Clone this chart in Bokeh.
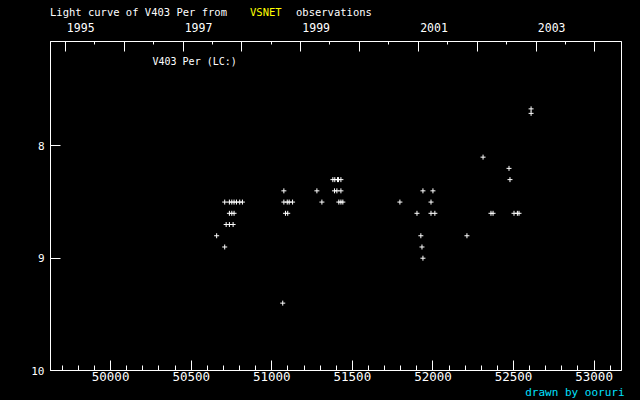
import pandas as pd
from bokeh.plotting import figure
from bokeh.layouts import column
from bokeh.models import (Range1d, LinearAxis, FixedTicker, SingleIntervalTicker,
                          Label, Title, Div)
from bokeh.embed import file_html
from bokeh.resources import INLINE

# Observations (JD - 2400000, visual magnitude)
jd = [50658, 50708,
      50708, 50737, 50752, 50766, 50781, 50801, 50818,
      50737, 50752, 50766,
      50717, 50737, 50760,
      51068, 51075,
      51075, 51096, 51108, 51129,
      51085, 51099,
      51280, 51311,
      51379, 51391, 51408, 51414, 51429,
      51389, 51404, 51429,
      51416, 51429, 51441,
      51795, 51901, 51925, 51932, 51938, 51938,
      51988, 51988, 52000, 52012,
      52211, 52311, 52360, 52373,
      52472, 52478, 52503, 52524, 52534,
      52609, 52609]
mag = [8.8, 8.9,
       8.5, 8.5, 8.5, 8.5, 8.5, 8.5, 8.5,
       8.6, 8.6, 8.6,
       8.7, 8.7, 8.7,
       9.4, 8.4,
       8.5, 8.5, 8.5, 8.5,
       8.6, 8.6,
       8.4, 8.5,
       8.3, 8.3, 8.3, 8.3, 8.3,
       8.4, 8.4, 8.4,
       8.5, 8.5, 8.5,
       8.5, 8.6, 8.8, 8.9, 9.0, 8.4,
       8.5, 8.6, 8.4, 8.6,
       8.8, 8.1, 8.6, 8.6,
       8.2, 8.3, 8.6, 8.6, 8.6,
       7.67, 7.71]

y_ticks = [8, 9, 10]
years = list(range(1995, 2005))
year_labels = ["1995", "1997", "1999", "2001", "2003"]

def to_jd(s):
    return pd.Timestamp(s).to_julian_date() - 2400000

year_jd = [to_jd(f"{y}-01-01") for y in years]
half_jd = [to_jd(f"{y}-07-01") for y in years[:-1]]
label_jd = [to_jd(f"{y}-01-01") for y in year_labels]

FONT = "DejaVu Sans Mono"
LABEL_SHIFT = 96  # year labels start at their tick (left-aligned look)

# ---- title line (HTML, three colours) ----
span = "position:absolute;top:6px;line-height:12px;white-space:pre;"
title_html = (
    '<div style="position:relative;width:640px;height:18px;background:#000;'
    f"font-family:'{FONT}';font-size:10.5px;color:#fff;\">"
    f'<span style="{span}left:50px;">Light curve of V403 Per from</span>'
    f'<span style="{span}left:250px;color:#ffff00;">VSNET</span>'
    f'<span style="{span}left:296px;">observations</span>'
    '</div>'
)
head = Div(text=title_html, width=640, height=18,
           styles={"background-color": "black", "margin": "0", "padding": "0"})

p = figure(width=640, height=382, output_backend="svg", toolbar_location=None,
           x_range=Range1d(49627, 53170), y_range=Range1d(10, 7.07),
           min_border_left=50, min_border_right=19, min_border_top=23, min_border_bottom=30,
           background_fill_color="black", border_fill_color="black")
p.outline_line_color = "white"
p.outline_line_width = 1
p.grid.visible = False

xa = p.xaxis[0]
xa.ticker = SingleIntervalTicker(interval=500, num_minor_ticks=5)
ya = p.yaxis[0]
ya.ticker = FixedTicker(ticks=y_ticks)
for ax in (xa, ya):
    ax.axis_line_color = "white"
    ax.major_tick_line_color = "white"
    ax.minor_tick_line_color = "white"
    ax.major_tick_in = 10
    ax.major_tick_out = 0
    ax.minor_tick_in = 5
    ax.minor_tick_out = 0
    ax.major_label_text_color = "white"
    ax.major_label_text_font = FONT
ya.minor_tick_line_color = None
xa.major_label_text_font_size = "12.5px"
xa.major_label_standoff = 1
ya.major_label_text_font_size = "11px"
ya.major_label_standoff = 6

# top axis: year ticks
top = LinearAxis(ticker=FixedTicker(ticks=year_jd, minor_ticks=half_jd))
top.axis_line_color = "white"
top.major_tick_line_color = "white"
top.minor_tick_line_color = "white"
top.major_tick_in = 10
top.major_tick_out = 0
top.minor_tick_in = 3
top.minor_tick_out = 0
top.major_label_text_color = None
top.major_label_text_font_size = "1px"
top.major_label_standoff = 0
p.add_layout(top, "above")

# top axis: year labels
lab_pos = [j + LABEL_SHIFT for j in label_jd]
top_lab = LinearAxis(ticker=FixedTicker(ticks=lab_pos, minor_ticks=[]),
                     major_label_overrides={pos: t for pos, t in zip(lab_pos, year_labels)})
top_lab.axis_line_color = None
top_lab.major_tick_line_color = None
top_lab.minor_tick_line_color = None
top_lab.major_tick_in = 0
top_lab.major_tick_out = 0
top_lab.major_label_text_color = "white"
top_lab.major_label_text_font = FONT
top_lab.major_label_text_font_size = "11.5px"
top_lab.major_label_standoff = 10
p.add_layout(top_lab, "above")

p.scatter(jd, mag, marker="cross", size=5, line_color="white", line_width=1)

p.add_layout(Label(x=102, y=309.3, x_units="screen", y_units="screen",
                   text="V403 Per (LC:)", text_color="white", text_font=FONT,
                   text_font_size="10px", text_align="left", text_baseline="middle"))

p.add_layout(Title(text="drawn by ooruri", align="right", offset=-3, standoff=0,
                   text_color="#00e0ff", text_font=FONT, text_font_size="11px",
                   text_font_style="normal"), "below")

layout = column(head, p, spacing=0, styles={"background-color": "black"})
open("out.html", "w").write(file_html(layout, INLINE))
